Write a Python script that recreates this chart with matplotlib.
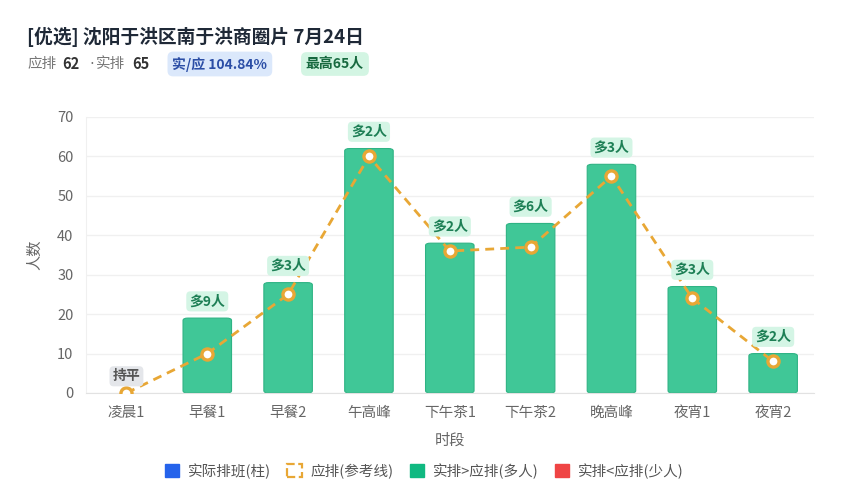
import matplotlib
matplotlib.use("Agg")
import matplotlib.pyplot as plt
from matplotlib.patches import Patch, FancyBboxPatch

plt.rcParams['font.family'] = ['Noto Sans CJK SC', 'DejaVu Sans']

# data
slots = ["凌晨1", "早餐1", "早餐2", "午高峰", "下午茶1", "下午茶2", "晚高峰", "夜宵1", "夜宵2"]
actual = [0, 19, 28, 62, 38, 43, 58, 27, 10]
planned = [0, 10, 25, 60, 36, 37, 55, 24, 8]
yticks = [0, 10, 20, 30, 40, 50, 60, 70]

GREEN = "#40c797"
GREEN_EDGE = "#2fb384"
ORANGE = "#e8a735"
GRID = "#f0f0f0"
TICK = "#666666"

fig = plt.figure(figsize=(8.45, 5.0), dpi=100, facecolor="white")
ax = fig.add_axes([0.1018, 0.214, 0.861, 0.552])

x = list(range(len(slots)))
for xi, v in zip(x, actual):
    if v <= 0:
        continue
    ax.add_patch(FancyBboxPatch((xi - 0.3, 0), 0.6, v,
                                boxstyle="round,pad=0,rounding_size=0.06",
                                mutation_aspect=10,
                                fc=GREEN, ec=GREEN_EDGE, lw=0.8, zorder=2))

ax.plot(x, planned, ls=(0, (3.2, 2.2)), color=ORANGE, lw=2.0, zorder=3,
        marker="o", ms=8, mfc="white", mec=ORANGE, mew=2.4)

# difference labels above the bars
for xi, a, p in zip(x, actual, planned):
    d = a - p
    top = max(a, p)
    if d > 0:
        txt, fc, col = f"多{d}人", "#d4f5e5", "#1d7f55"
    elif d < 0:
        txt, fc, col = f"少{-d}人", "#fde0e0", "#b83232"
    else:
        txt, fc, col = "持平", "#e4e6ea", "#555555"
    ax.annotate(txt, (xi, top), xytext=(0, 7), textcoords="offset points",
                ha="center", va="bottom", fontsize=10, fontweight="bold", color=col,
                bbox=dict(boxstyle="round,pad=0.22,rounding_size=0.3", fc=fc, ec="none"),
                zorder=5)

ax.set_xlim(-0.5, len(slots) - 0.5)
ax.set_ylim(0, 70)
ax.set_yticks(yticks)
ax.set_xticks(x)
ax.set_xticklabels(slots)
ax.grid(axis="y", color=GRID, lw=1.0, zorder=0)
ax.set_axisbelow(True)
for s in ["top", "right"]:
    ax.spines[s].set_visible(False)
ax.spines["left"].set_color(GRID)
ax.spines["bottom"].set_color("#e2e2e2")
ax.tick_params(length=0, colors=TICK, labelsize=10.5, pad=9)
ax.set_xlabel("时段", color=TICK, fontsize=11, labelpad=9)
ax.set_ylabel("人数", color=TICK, fontsize=11, labelpad=10)

# header
fig.text(0.032, 0.926, "[优选] 沈阳于洪区南于洪商圈片 7月24日", fontsize=13.5,
         fontweight="bold", color="#1f2937", va="center")
fig.text(0.032, 0.872, "应排", fontsize=10.5, color="#777777", va="center")
fig.text(0.074, 0.872, "62", fontsize=10.5, fontweight="bold", color="#333333", va="center")
fig.text(0.1055, 0.872, "·", fontsize=10.5, color="#777777", va="center",
         family="DejaVu Sans")
fig.text(0.113, 0.872, "实排", fontsize=10.5, color="#777777", va="center")
fig.text(0.157, 0.872, "65", fontsize=10.5, fontweight="bold", color="#333333", va="center")
fig.text(0.204, 0.872, "实/应 104.84%", fontsize=10, fontweight="bold", color="#2b4ea6",
         va="center", bbox=dict(boxstyle="round,pad=0.35,rounding_size=0.4", fc="#dbe8fb", ec="none"))
fig.text(0.362, 0.872, "最高65人", fontsize=10, fontweight="bold", color="#17693f",
         va="center", bbox=dict(boxstyle="round,pad=0.35,rounding_size=0.4", fc="#d3f5e3", ec="none"))

handles = [
    Patch(fc="#2563eb", ec="#2563eb", label="实际排班(柱)"),
    Patch(fc="white", ec=ORANGE, lw=1.6, ls="--", label="应排(参考线)"),
    Patch(fc="#10b981", ec="#10b981", label="实排>应排(多人)"),
    Patch(fc="#ef4444", ec="#ef4444", label="实排<应排(少人)"),
]
fig.legend(handles=handles, loc="center", bbox_to_anchor=(0.502, 0.058), ncol=4,
           frameon=False, fontsize=10.5, handlelength=1.0, handleheight=1.0,
           handletextpad=0.6, columnspacing=1.1, labelcolor="#555555")

fig.savefig("out.png", dpi=100, facecolor="white")
